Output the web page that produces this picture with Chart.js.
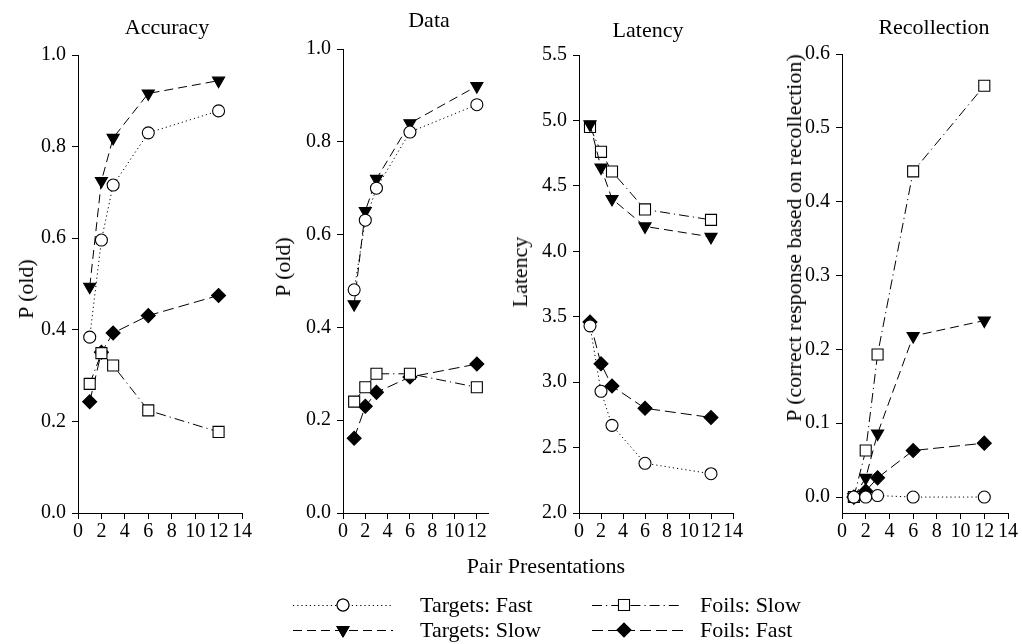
<!DOCTYPE html>
<html>
<head>
<meta charset="utf-8">
<script src="https://cdn.jsdelivr.net/npm/chart.js@4.4.1/dist/chart.umd.min.js"></script>
<style>
  body { margin: 0; background: #fff; width: 1022px; height: 644px; position: relative; overflow: hidden;
         font-family: "Liberation Serif", "DejaVu Serif", serif; color: #000; }
  canvas { position: absolute; }
  .lbl { position: absolute; transform: translate(-50%, -50%); white-space: nowrap; font-size: 22px; line-height: 1; }
  .rot { transform: translate(-50%, -50%) rotate(-90deg); }
  .leg { position: absolute; transform: translateY(-50%); white-space: nowrap; font-size: 22px; line-height: 1; }
</style>
</head>
<body>
<canvas id="legend" width="1022" height="80" style="left:0;top:564px"></canvas>
<script>
// pair presentations (x values) and tick labels
var pairs = [1, 2, 3, 6, 12];
var xTicks = [0, 2, 4, 6, 8, 10, 12, 14];
var seriesNames = ["Targets: Fast", "Targets: Slow", "Foils: Slow", "Foils: Fast"];

// Accuracy
var accTargetsFast = [0.384, 0.596, 0.716, 0.830, 0.878];
var accTargetsSlow = [0.494, 0.725, 0.819, 0.916, 0.944];
var accFoilsSlow   = [0.282, 0.349, 0.322, 0.224, 0.177];
var accFoilsFast   = [0.243, 0.351, 0.393, 0.431, 0.475];
var accTicks = [0, 0.2, 0.4, 0.6, 0.8, 1.0];

// Data
var datTargetsFast = [0.481, 0.631, 0.700, 0.821, 0.880];
var datTargetsSlow = [0.450, 0.651, 0.720, 0.840, 0.920];
var datFoilsSlow   = [0.240, 0.271, 0.300, 0.300, 0.271];
var datFoilsFast   = [0.161, 0.230, 0.260, 0.293, 0.321];
var datTicks = [0, 0.2, 0.4, 0.6, 0.8, 1.0];

// Latency
var latTargetsFast = [3.43, 2.93, 2.67, 2.38, 2.30];
var latTargetsSlow = [4.97, 4.64, 4.40, 4.19, 4.11];
var latFoilsSlow   = [4.95, 4.76, 4.61, 4.32, 4.24];
var latFoilsFast   = [3.46, 3.14, 2.97, 2.80, 2.73];
var latTicks = [2.0, 2.5, 3.0, 3.5, 4.0, 4.5, 5.0, 5.5];

// Recollection
var recTargetsFast = [0.000, 0.000, 0.002, 0.000, 0.000];
var recTargetsSlow = [0.000, 0.026, 0.086, 0.218, 0.239];
var recFoilsSlow   = [0.000, 0.063, 0.193, 0.441, 0.557];
var recFoilsFast   = [0.000, 0.008, 0.026, 0.063, 0.073];
var recTicks = [0, 0.1, 0.2, 0.3, 0.4, 0.5, 0.6];

var FONT = '"Liberation Serif", "DejaVu Serif", serif';

// line / marker style per series
var styles = [
  { dash: [1.2, 3],          shape: 'circle',   rot: 0,   r: 6,   fill: '#fff' },
  { dash: [9, 5],            shape: 'triangle', rot: 180, r: 7,   fill: '#000' },
  { dash: [10, 4, 1.2, 4],   shape: 'rect',     rot: 0,   r: 7.8, fill: '#fff' },
  { dash: [11, 5],           shape: 'rectRot',  rot: 0,   r: 7,   fill: '#000' }
];

var PADL = 62, PADR = 16, PADT = 16, PADB = 42;

var panels = [
  { title: 'Accuracy', ylabel: 'P (old)', values: [accTargetsFast, accTargetsSlow, accFoilsSlow, accFoilsFast],
    yTicks: accTicks, ymin: 0, ymax: 1, xmax: 14,
    axisX: 78, right: 242, top: 53, bottom: 513, tx: 167, ty: 27, lx: 26, ly: 289 },
  { title: 'Data', ylabel: 'P (old)', values: [datTargetsFast, datTargetsSlow, datFoilsSlow, datFoilsFast],
    yTicks: datTicks, ymin: 0, ymax: 1, xmax: 13,
    axisX: 343, right: 488, top: 47, bottom: 513, tx: 429, ty: 20, lx: 283, ly: 267 },
  { title: 'Latency', ylabel: 'Latency', values: [latTargetsFast, latTargetsSlow, latFoilsSlow, latFoilsFast],
    yTicks: latTicks, ymin: 2, ymax: 5.5, xmax: 14,
    axisX: 579, right: 733, top: 53, bottom: 513, tx: 648, ty: 30, lx: 520, ly: 272 },
  { title: 'Recollection', ylabel: 'P (correct response based on recollection)',
    values: [recTargetsFast, recTargetsSlow, recFoilsSlow, recFoilsFast],
    yTicks: recTicks, ymin: -0.0216, ymax: 0.6, xmax: 14,
    axisX: 842, right: 1008, top: 52, bottom: 513, tx: 934, ty: 27, lx: 794, ly: 238 }
];

function addLabel(text, x, y, cls) {
  var d = document.createElement('div');
  d.className = cls;
  d.textContent = text;
  d.style.left = x + 'px';
  d.style.top = y + 'px';
  document.body.appendChild(d);
}

function makePanel(p) {
  var c = document.createElement('canvas');
  var W = (p.right - p.axisX) + PADL + PADR;
  var H = (p.bottom - p.top) + PADT + PADB;
  c.width = W; c.height = H;
  c.style.left = (p.axisX - PADL) + 'px';
  c.style.top = (p.top - PADT) + 'px';
  c.style.width = W + 'px'; c.style.height = H + 'px';
  document.body.appendChild(c);

  var datasets = styles.map(function (s, i) {
    return {
      label: seriesNames[i],
      data: pairs.map(function (x, j) { return { x: x, y: p.values[i][j] }; }),
      borderColor: '#000', borderWidth: 1, borderDash: s.dash,
      pointStyle: s.shape, pointRotation: s.rot, pointRadius: s.r, pointHoverRadius: s.r,
      pointBackgroundColor: s.fill, pointBorderColor: '#000', pointBorderWidth: 1.1,
      fill: false, tension: 0, clip: false
    };
  });

  var axisCommon = {
    type: 'linear',
    grid: { display: true, drawOnChartArea: false, drawTicks: true, tickLength: 6, color: '#000', lineWidth: 1 },
    border: { display: true, color: '#000', width: 1 },
    ticks: { color: '#000', font: { family: FONT, size: 20 }, autoSkip: false, maxRotation: 0 }
  };

  new Chart(c, {
    type: 'line',
    data: { datasets: datasets },
    options: {
      responsive: false, animation: false, devicePixelRatio: 1,
      layout: { padding: { left: 0, right: PADR, top: PADT, bottom: 0 } },
      plugins: { legend: { display: false }, tooltip: { enabled: false }, title: { display: false } },
      scales: {
        x: Object.assign({}, axisCommon, {
          min: 0, max: p.xmax,
          ticks: Object.assign({}, axisCommon.ticks, { padding: 1 }),
          afterBuildTicks: function (s) {
            s.ticks = xTicks.filter(function (v) { return v <= p.xmax; }).map(function (v) { return { value: v }; });
          },
          afterFit: function (s) { s.height = PADB; }
        }),
        y: Object.assign({}, axisCommon, {
          min: p.ymin, max: p.ymax,
          ticks: Object.assign({}, axisCommon.ticks, {
            padding: 6,
            callback: function (v) { return Number(v).toFixed(1); }
          }),
          afterBuildTicks: function (s) {
            s.ticks = p.yTicks.map(function (v) { return { value: v }; });
          },
          afterFit: function (s) { s.width = PADL; }
        })
      }
    }
  });

  addLabel(p.title, p.tx, p.ty, 'lbl');
  addLabel(p.ylabel, p.lx, p.ly, 'lbl rot');
}

panels.forEach(makePanel);

addLabel('Pair Presentations', 546, 566, 'lbl');

// legend
var legRows = [
  { i: 0, x0: 293, x1: 393, mx: 343, y: 605, tx: 420 },
  { i: 1, x0: 293, x1: 393, mx: 343, y: 630, tx: 420 },
  { i: 2, x0: 592, x1: 680, mx: 624, y: 605, tx: 700 },
  { i: 3, x0: 592, x1: 686, mx: 624, y: 630, tx: 700 }
];
var lc = document.getElementById('legend').getContext('2d');
var LT = 564;
legRows.forEach(function (r) {
  var s = styles[r.i];
  var y = r.y - LT;
  lc.save();
  lc.strokeStyle = '#000'; lc.lineWidth = 1;
  lc.setLineDash(s.dash);
  lc.beginPath(); lc.moveTo(r.x0, y + 0.5); lc.lineTo(r.x1, y + 0.5); lc.stroke();
  lc.restore();
  Chart.helpers.drawPoint(lc, {
    pointStyle: s.shape, rotation: s.rot, radius: s.r, borderWidth: 1.1
  }, r.mx, y);
  lc.save();
  lc.fillStyle = s.fill; lc.strokeStyle = '#000'; lc.lineWidth = 1.1;
  lc.beginPath();
  Chart.helpers.drawPoint(lc, { pointStyle: s.shape, rotation: s.rot, radius: s.r, borderWidth: 1.1 }, r.mx, y);
  lc.restore();
  addLabel(seriesNames[r.i], r.tx, r.y, 'leg');
});
</script>
</body>
</html>
